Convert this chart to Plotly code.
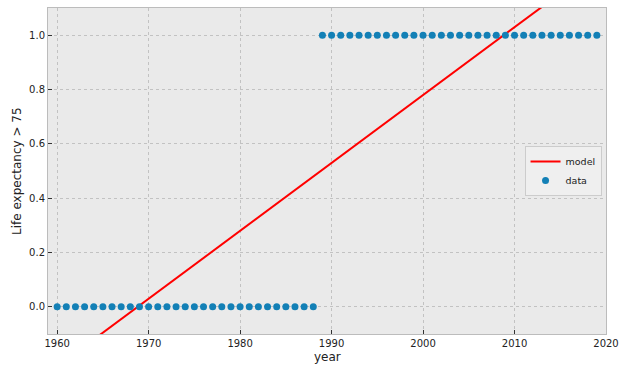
import plotly.graph_objects as go

years = list(range(1960, 2020))
above_75 = [0] * 29 + [1] * 31
model_x = [1960, 2019]
model_y = [-0.220, 1.254]
x_ticks = [1960, 1970, 1980, 1990, 2000, 2010, 2020]
y_ticks = [0.0, 0.2, 0.4, 0.6, 0.8, 1.0]

fig = go.Figure()
fig.add_trace(go.Scatter(x=model_x, y=model_y, mode="lines", name="model",
                         line=dict(color="#ff0000", width=2)))
fig.add_trace(go.Scatter(x=years, y=above_75, mode="markers", name="data",
                         marker=dict(color="#1380b6", size=7, line=dict(width=0))))

axis_common = dict(showgrid=True, gridcolor="#c2c2c2", griddash="dot", gridwidth=0.8,
                   zeroline=False, showline=True, linecolor="#bcbcbc", linewidth=1,
                   mirror=True, ticks="inside", ticklen=4, tickcolor="#333333",
                   automargin=False,
                   tickfont=dict(family="DejaVu Sans", size=10, color="#222222"))

fig.update_layout(
    width=622, height=367,
    margin=dict(l=48, r=16, t=8, b=33),
    paper_bgcolor="white", plot_bgcolor="#eaeaea",
    font=dict(family="DejaVu Sans", color="#222222"),
    xaxis=dict(range=[1959, 2020], tickvals=x_ticks, **axis_common),
    yaxis=dict(range=[-0.1, 1.1], tickvals=y_ticks, tickformat=".1f", **axis_common),
    legend=dict(x=0.992, y=0.5, xanchor="right", yanchor="middle",
                bgcolor="#efefef", bordercolor="#cccccc", borderwidth=1,
                font=dict(size=9.5), itemwidth=30, tracegroupgap=0),
    showlegend=True,
    annotations=[
        dict(text="year", xref="paper", yref="paper", x=0.5, y=-0.0, yshift=-23,
             xanchor="center", yanchor="middle", showarrow=False, font=dict(size=12)),
        dict(text="Life expectancy > 75", xref="paper", yref="paper", x=0, xshift=-31,
             y=0.5, textangle=-90, xanchor="center", yanchor="middle", showarrow=False,
             font=dict(size=12)),
    ],
)
fig.write_html("out.html", config={"displayModeBar": False},
               post_script="document.body.style.margin='0px';document.body.style.padding='0px';")
